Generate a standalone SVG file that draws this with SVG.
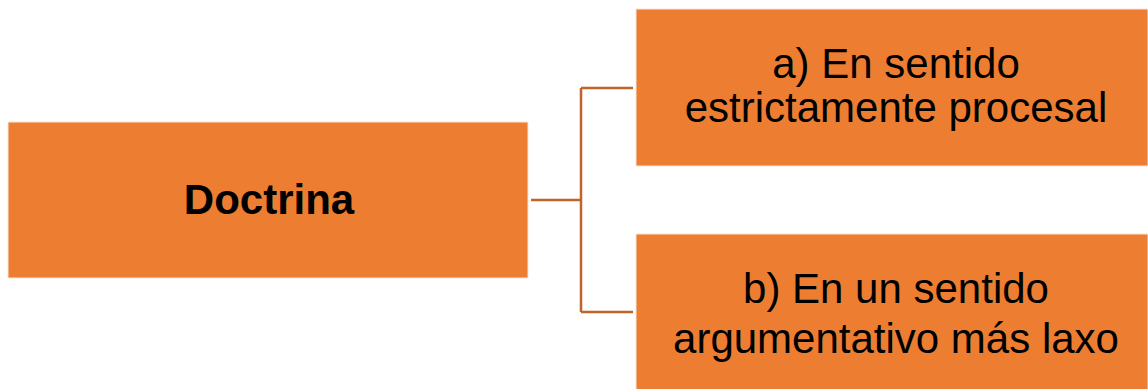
<svg xmlns="http://www.w3.org/2000/svg" width="1148" height="389" viewBox="0 0 1148 389">
<style>
.box{fill:#ED7D31;stroke:#FBE5D6;stroke-width:1}
.t{font-family:"Liberation Sans",Arial,sans-serif;font-size:42px;fill:#000;text-anchor:middle}
.b{font-weight:bold}
.c{fill:none;stroke:#C0652A;stroke-width:2.5}
</style>
<rect width="1148" height="389" fill="#fff"/>
<g id="connectors">
<path class="c" d="M531,200 H581 M581,88 V312 M581,88 H633 M581,312 H633"/>
</g>
<g id="doctrina">
<rect class="box" x="8" y="122" width="520" height="156"/>
<text class="t b" x="269" y="214">Doctrina</text>
</g>
<g id="a">
<rect class="box" x="636" y="9" width="512" height="157"/>
<text class="t" x="896" y="78">a) En sentido</text>
<text class="t" x="896" y="122">estrictamente procesal</text>
</g>
<g id="b">
<rect class="box" x="636" y="234" width="512" height="160"/>
<text class="t" x="896" y="303">b) En un sentido</text>
<text class="t" x="896" y="353">argumentativo más laxo</text>
</g>
</svg>
